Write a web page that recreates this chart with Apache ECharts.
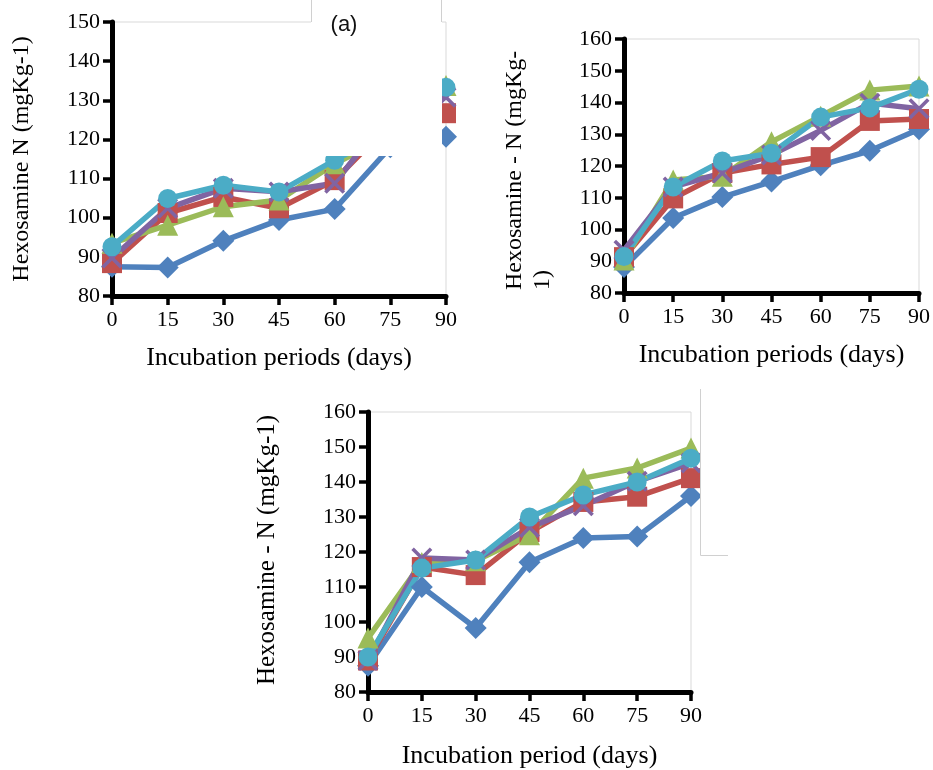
<!DOCTYPE html>
<html>
<head>
<meta charset="utf-8">
<script src="https://cdn.jsdelivr.net/npm/echarts@6/dist/echarts.min.js"></script>
<style>
  html, body { margin: 0; padding: 0; background: #fff; }
  #chart { width: 933px; height: 770px; }
</style>
</head>
<body>
<div id="chart"></div>
<script>
// incubation days (x axis)
const days = [0, 15, 30, 45, 60, 75, 90]

// panel (a)
const aBlue = [87.5, 87.3, 94.1, 99.4, 102.2, 118, 120.7]
const aRed = [88.4, 101.2, 105.3, 102.4, 109.6, 124, 126.7]
const aGreen = [93.5, 98.1, 102.8, 104.5, 113.8, 121, 133.8]
const aPurple = [89.7, 102.4, 107.5, 106.6, 108.8, 127, 130.8]
const aCyan = [92.6, 104.9, 108.3, 106.6, 114.7, 122, 133.3]

// panel top right
const bBlue = [88.2, 103.6, 110.2, 115.1, 120.2, 124.8, 131.6]
const bRed = [91.3, 109.8, 117.8, 120.5, 122.8, 134.2, 134.8]
const bGreen = [90.4, 115.6, 116.8, 127.6, 135.7, 143.9, 145.2]
const bPurple = [93.5, 113.4, 117.8, 123.5, 131.2, 139.8, 138]
const bCyan = [91.5, 113.4, 121.6, 124, 135.4, 138.3, 144.2]

// panel bottom
const cBlue = [87.5, 110, 98.3, 117.1, 124, 124.4, 136]
const cRed = [89, 115.7, 113.4, 125.7, 134.3, 135.8, 141.1]
const cGreen = [95.4, 117, 117.5, 124.9, 141.1, 144, 149.7]
const cPurple = [89, 118.3, 117.7, 127, 133.2, 140.2, 145.4]
const cCyan = [90, 115.4, 117.7, 130, 136.3, 140, 146.8]

const yTop = [150, 160, 160]
const xNames = ['Incubation periods (days)', 'Incubation periods (days)', 'Incubation period (days)']

const serif = 'Liberation Serif'
const crossPath = 'path://M0,12L12,0L50,38L88,0L100,12L62,50L100,88L88,100L50,62L12,100L0,88L38,50Z'

// colour + marker per treatment
const styles = [
  { color: '#4F81BD', symbol: 'diamond', size: 22 },
  { color: '#C0504D', symbol: 'rect', size: 20 },
  { color: '#9BBB59', symbol: 'triangle', size: 21 },
  { color: '#8064A2', symbol: crossPath, size: 21 },
  { color: '#4BACC6', symbol: 'circle', size: 19 }
]

const panels = [
  [aBlue, aRed, aGreen, aPurple, aCyan],
  [bBlue, bRed, bGreen, bPurple, bCyan],
  [cBlue, cRed, cGreen, cPurple, cCyan]
]

const chart = echarts.init(document.getElementById('chart'))

const grids = [
  { left: 112, top: 22, width: 334, height: 274 },
  { left: 624, top: 39, width: 298, height: 254 },
  { left: 368, top: 412, width: 323, height: 280 }
].map(g => ({ ...g, show: true, borderColor: '#d9d9d9', borderWidth: 1, backgroundColor: 'transparent' }))

const axisLine = { show: true, onZero: false, lineStyle: { color: '#000', width: 5 } }
const axisTick = { show: true, inside: false, length: 9, lineStyle: { color: '#000', width: 3.5 } }
const axisLabel = { color: '#000', fontFamily: serif, fontSize: 22, margin: 12 }

const xAxis = grids.map((g, i) => ({
  type: 'value',
  gridIndex: i,
  min: 0,
  max: 90,
  interval: 15,
  axisLine,
  axisTick,
  axisLabel: { ...axisLabel, margin: 13 },
  splitLine: { show: false },
  name: xNames[i],
  nameLocation: 'middle',
  nameGap: i === 2 ? 51 : 49,
  nameTextStyle: { color: '#000', fontFamily: serif, fontSize: 26 }
}))

const yAxis = grids.map((g, i) => ({
  type: 'value',
  gridIndex: i,
  min: 80,
  max: yTop[i],
  interval: 10,
  axisLine,
  axisTick,
  axisLabel,
  splitLine: { show: false }
}))

const series = []
panels.forEach((panel, p) => {
  panel.forEach((vals, k) => {
    const s = styles[k]
    series.push({
      type: 'line',
      xAxisIndex: p,
      yAxisIndex: p,
      data: days.map((d, j) => [d, vals[j]]),
      symbol: s.symbol,
      symbolSize: s.size,
      showAllSymbol: true,
      clip: false,
      lineStyle: { color: s.color, width: 5.5 },
      itemStyle: { color: s.color },
      emphasis: { disabled: true },
      animation: false
    })
  })
})

const border = { stroke: '#d0d0d0', lineWidth: 1 }

chart.setOption({
  animation: false,
  grid: grids,
  xAxis,
  yAxis,
  series,
  graphic: [
    // y axis titles
    {
      type: 'text', x: 22, y: 159, rotation: Math.PI / 2,
      style: { text: 'Hexosamine N (mgKg-1)', font: '24px "Liberation Serif"', fill: '#000', align: 'center', verticalAlign: 'middle' }
    },
    {
      type: 'text', x: 501, y: 290, rotation: Math.PI / 2,
      style: { text: 'Hexosamine - N (mgKg-\n1)', font: '24px "Liberation Serif"', lineHeight: 28, fill: '#000', align: 'left', verticalAlign: 'top' }
    },
    {
      type: 'text', x: 267, y: 550, rotation: Math.PI / 2,
      style: { text: 'Hexosamine - N (mgKg-1)', font: '25px "Liberation Serif"', fill: '#000', align: 'center', verticalAlign: 'middle' }
    },
    // pasted box that hides part of panel (a)
    { type: 'rect', z: 100, shape: { x: 311, y: 0, width: 131, height: 156 }, style: { fill: '#fff' } },
    { type: 'line', z: 101, shape: { x1: 311.5, y1: 0, x2: 311.5, y2: 22 }, style: border },
    { type: 'line', z: 101, shape: { x1: 441.5, y1: 0, x2: 441.5, y2: 22 }, style: border },
    {
      type: 'text', z: 102, x: 344, y: 25,
      style: { text: '(a)', font: '22px "Liberation Sans"', fill: '#111', align: 'center', verticalAlign: 'middle' }
    },
    // box at right of bottom panel
    { type: 'rect', z: 100, shape: { x: 700, y: 389, width: 60, height: 166 }, style: { fill: '#fff' } },
    { type: 'line', z: 101, shape: { x1: 700.5, y1: 389, x2: 700.5, y2: 555.5 }, style: border },
    { type: 'line', z: 101, shape: { x1: 700.5, y1: 555.5, x2: 728, y2: 555.5 }, style: border }
  ]
})
</script>
</body>
</html>
